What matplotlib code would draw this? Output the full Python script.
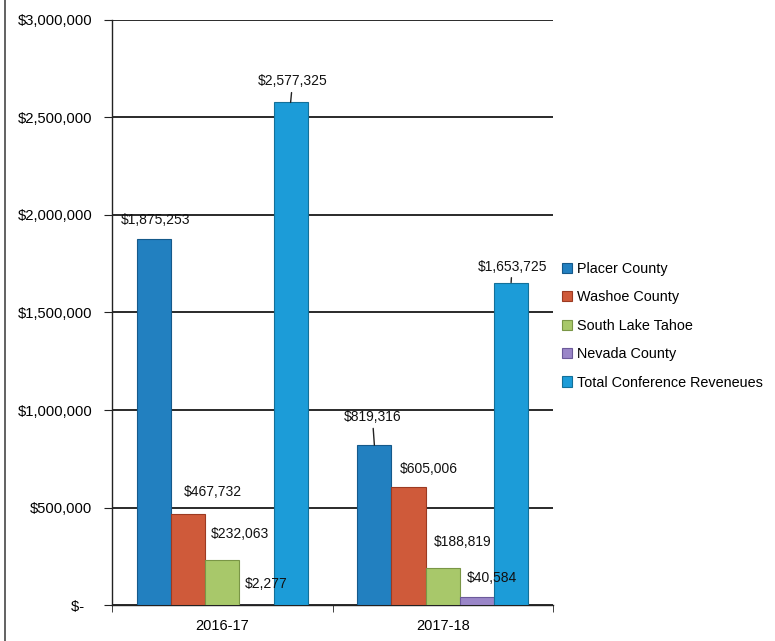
import numpy as np
import matplotlib.pyplot as plt
from matplotlib.lines import Line2D

plt.rcParams['font.family'] = ['Liberation Sans', 'DejaVu Sans']

# conference revenue by source, two fiscal years
years = ['2016-17', '2017-18']
sources = ['Placer County', 'Washoe County', 'South Lake Tahoe',
           'Nevada County', 'Total Conference Reveneues']
placer = [1875253, 819316]
washoe = [467732, 605006]
south_lake = [232063, 188819]
nevada = [2277, 40584]
total = [2577325, 1653725]
yticks = [0, 500000, 1000000, 1500000, 2000000, 2500000, 3000000]

series = [placer, washoe, south_lake, nevada, total]
colors = ['#2280c0', '#cf5a3a', '#a8c86a', '#9a86c8', '#1c9cd8']
edges = ['#15598a', '#9c3a22', '#7a9646', '#6c5a9a', '#137099']

# label nudges in pixels (dx, dy) per series and year, plus which get a leader line
label_off = [[(2, 19), (-2, 28)],
             [(25, 22), (20, 18)],
             [(18, 26), (20, 26)],
             [(10, 21), (15, 19)],
             [(2, 21), (1, 16)]]
leader = [[False, True], [False, False], [False, False], [False, False], [True, True]]

fig = plt.figure(figsize=(7.75, 6.41), dpi=100)
ax = fig.add_axes([112/775, 36/641, 441/775, 585/641])

x = np.arange(len(years))
w = 0.155
for i, (vals, c, ec) in enumerate(zip(series, colors, edges)):
    xs = x + (i - 2) * w
    ax.bar(xs, vals, w, color=c, edgecolor=ec, linewidth=0.8, label=sources[i], zorder=3)
    for j, v in enumerate(vals):
        dx, dy = label_off[i][j]
        props = dict(arrowstyle='-', color='#222222', lw=1, shrinkA=1, shrinkB=0) if leader[i][j] else None
        ax.annotate('${:,}'.format(v), xy=(xs[j], v), xytext=(dx, dy),
                    textcoords='offset pixels', ha='center', va='center',
                    fontsize=10, color='#111111', arrowprops=props, zorder=4)

ax.set_xlim(-0.5, 1.5)
ax.set_ylim(0, 3000000)
ax.set_yticks(yticks)
ax.set_yticklabels(['$-  '] + ['${:,}'.format(t) for t in yticks[1:]])
ax.yaxis.grid(True, color='#2a2a2a', linewidth=1.4, zorder=0)
ax.set_axisbelow(True)

ax.set_xticks(x)
ax.set_xticklabels(years)
ax.set_xticks([-0.5, 0.5, 1.5], minor=True)
ax.tick_params(axis='x', which='major', length=0, pad=10, labelsize=10.5)
ax.tick_params(axis='x', which='minor', length=5, direction='out', color='#222222')
ax.tick_params(axis='y', length=6, direction='out', pad=8, labelsize=10.6, color='#222222')

for s in ['top', 'right']:
    ax.spines[s].set_visible(False)
for s in ['left', 'bottom']:
    ax.spines[s].set_color('#222222')
    ax.spines[s].set_linewidth(1.0)

ax.legend(loc='center left', bbox_to_anchor=(562/775, 0.492), bbox_transform=fig.transFigure,
          frameon=False, fontsize=10.4, handlelength=0.7, handleheight=0.7,
          handletextpad=0.35, labelspacing=1.0, borderpad=0, borderaxespad=0)

# page frame on the left side
fig.add_artist(Line2D([5/775, 5/775], [0, 1], color='#555555', linewidth=1.3))

fig.savefig('out.png', dpi=100, facecolor='white')
